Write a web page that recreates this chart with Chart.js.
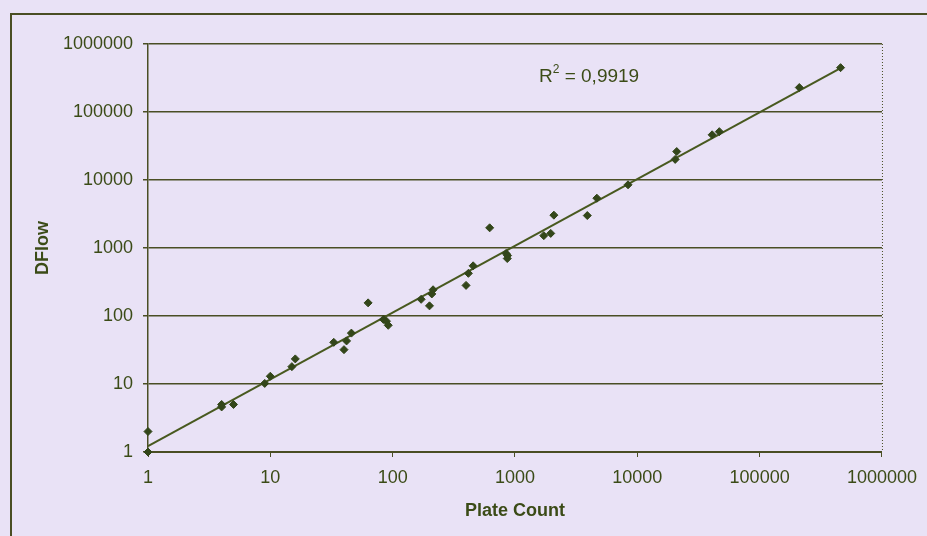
<!DOCTYPE html>
<html>
<head>
<meta charset="utf-8">
<script src="https://cdn.jsdelivr.net/npm/chart.js@4"></script>
<style>
  html, body { margin: 0; padding: 0; background: #e9e2f6; }
  #wrap { width: 927px; height: 536px; position: relative; }
</style>
</head>
<body>
<div id="wrap"><canvas id="dflowChart" width="927" height="536"></canvas></div>
<script>
// ── Data ─────────────────────────────────

const plateCount = [1, 1, 4, 4, 5, 9, 10, 15, 16, 33, 40, 42, 46, 63, 84, 89, 92,
  171, 200, 209, 214, 398, 416, 455, 621, 846, 865, 870, 1720, 1960, 2080,
  3900, 4670, 8400, 20400, 21000, 40900, 46800, 211000, 459000];
const dFlow = [2, 1, 4.6, 5, 5, 10.2, 13, 18, 23.4, 41, 32, 43, 56, 156, 89, 84, 73,
  176, 141, 211, 243, 282, 424, 547, 1980, 830, 700, 775, 1520, 1640, 3040,
  3000, 5400, 8500, 20100, 26200, 46200, 51400, 229000, 449000];
const decadeTicks = [1, 10, 100, 1000, 10000, 100000, 1000000];
const r2Label = '0,9919';

const ink = '#3b4b17';
const lineInk = '#4a4e24';
const dotInk = '#33461a';

// ── Power trendline (least squares on logs) ──

const lx = plateCount.map(v => Math.log10(v));
const ly = dFlow.map(v => Math.log10(v));
const n = lx.length;
const mx = lx.reduce((a, b) => a + b, 0) / n;
const my = ly.reduce((a, b) => a + b, 0) / n;
let sxy = 0, sxx = 0;
for (let i = 0; i < n; i++) {
  sxy += (lx[i] - mx) * (ly[i] - my);
  sxx += (lx[i] - mx) * (lx[i] - mx);
}
const slope = sxy / sxx;
const intercept = my - slope * mx;
const fit = x => Math.pow(10, intercept + slope * Math.log10(x));
const xMin = Math.min(...plateCount);
const xMax = Math.max(...plateCount);

// ── Plugins ──────────────────────────────

const frame = {
  id: 'frame',
  beforeDraw(chart) {
    const c = chart.ctx;
    c.save();
    c.fillStyle = '#e9e2f6';
    c.fillRect(0, 0, chart.width, chart.height);
    c.strokeStyle = lineInk;
    c.lineWidth = 2;
    c.strokeRect(11, 14, chart.width + 20, chart.height + 20);
    c.restore();
  },
  afterDraw(chart) {
    const c = chart.ctx;
    const a = chart.chartArea;
    c.save();
    // dotted right edge
    c.strokeStyle = lineInk;
    c.lineWidth = 1;
    c.setLineDash([1, 2]);
    c.beginPath();
    c.moveTo(a.right + 0.5, a.top);
    c.lineTo(a.right + 0.5, a.bottom);
    c.stroke();
    c.setLineDash([]);
    // R² label
    c.fillStyle = ink;
    c.textBaseline = 'alphabetic';
    c.font = '19px "Liberation Sans", Arial, sans-serif';
    let x = 539;
    const y = 82;
    c.fillText('R', x, y);
    x += c.measureText('R').width;
    c.font = '12px "Liberation Sans", Arial, sans-serif';
    c.fillText('2', x, y - 9);
    x += c.measureText('2').width;
    c.font = '19px "Liberation Sans", Arial, sans-serif';
    c.fillText(' = ' + r2Label, x, y);
    c.restore();
  }
};

// ── Chart Setup ──────────────────────────

const tickFont = { family: '"Liberation Sans", Arial, sans-serif', size: 18 };
const titleFont = { family: '"Liberation Sans", Arial, sans-serif', size: 18, weight: 'bold' };

const ctx = document.getElementById('dflowChart').getContext('2d');
const chart = new Chart(ctx, {
  type: 'scatter',
  data: {
    datasets: [
      {
        label: 'DFlow',
        data: plateCount.map((x, i) => ({ x, y: dFlow[i] })),
        pointStyle: 'rectRot',
        pointRadius: 4,
        backgroundColor: dotInk,
        borderColor: dotInk,
        borderWidth: 1,
        clip: false
      },
      {
        label: 'Trend',
        data: [{ x: xMin, y: fit(xMin) }, { x: xMax, y: fit(xMax) }],
        showLine: true,
        pointRadius: 0,
        borderColor: '#48591f',
        borderWidth: 2
      }
    ]
  },
  options: {
    responsive: false,
    animation: false,
    layout: { padding: { left: 0, top: 44, right: 42, bottom: 0 } },
    plugins: { legend: { display: false }, tooltip: { enabled: false } },
    scales: {
      x: {
        type: 'logarithmic',
        min: 1, max: 1000000,
        afterBuildTicks: s => { s.ticks = decadeTicks.map(v => ({ value: v })); },
        afterFit: s => { s.height = 84; },
        ticks: { color: ink, font: tickFont, padding: 10, maxRotation: 0, autoSkip: false,
                 callback: v => String(v) },
        grid: { drawOnChartArea: false, drawTicks: true, tickLength: 5, tickColor: lineInk },
        border: { display: true, color: lineInk, width: 2 },
        title: { display: true, text: 'Plate Count', color: ink, font: titleFont,
                 padding: { top: 0, bottom: 14 } }
      },
      y: {
        type: 'logarithmic',
        min: 1, max: 1000000,
        afterBuildTicks: s => { s.ticks = decadeTicks.map(v => ({ value: v })); },
        afterFit: s => { s.width = 148; },
        ticks: { color: ink, font: tickFont, padding: 10, autoSkip: false,
                 callback: v => String(v) },
        grid: { color: lineInk, lineWidth: 1.5, drawTicks: true, tickLength: 5, tickColor: lineInk },
        border: { display: true, color: lineInk, width: 1.5 },
        title: { display: true, text: 'DFlow', color: ink, font: titleFont,
                 padding: { top: 32, bottom: 0 } }
      }
    }
  },
  plugins: [frame]
});
</script>
</body>
</html>
